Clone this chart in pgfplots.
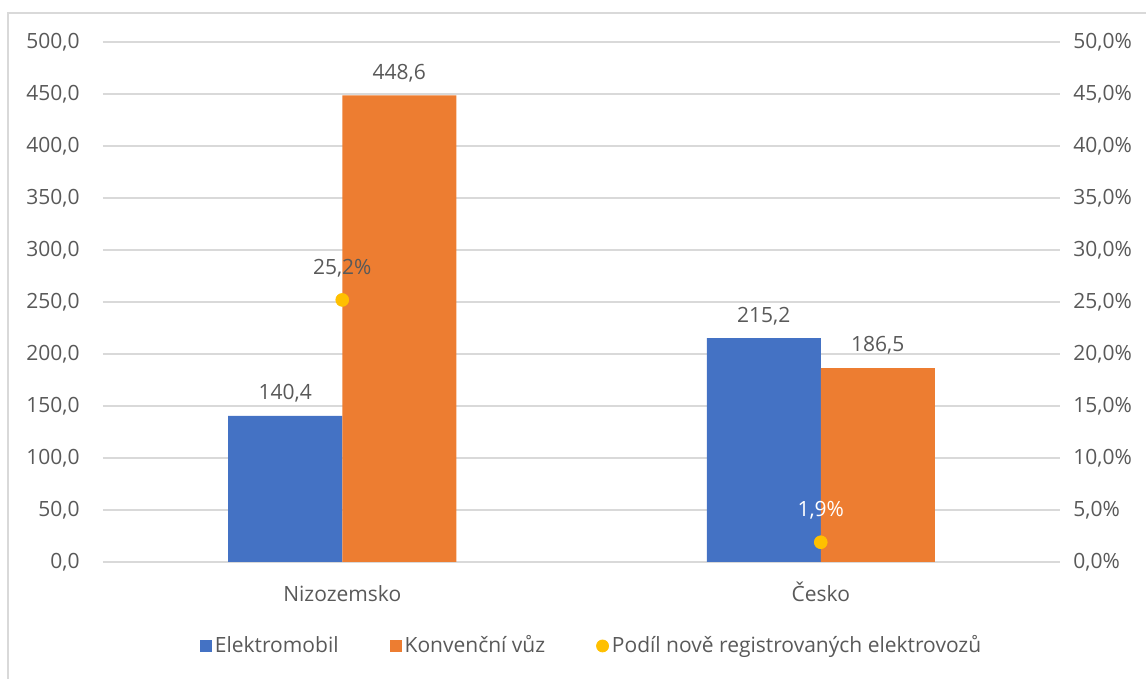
\documentclass[border=0pt]{standalone}
\usepackage{fontspec}
\setmainfont{Open Sans}
\usepackage{pgfplots}
\pgfplotsset{compat=1.18}
\definecolor{elblue}{HTML}{4472C4}
\definecolor{konv}{HTML}{ED7D31}
\definecolor{yel}{HTML}{FFC000}
\definecolor{txt}{HTML}{595959}
\definecolor{gridc}{HTML}{D9D9D9}

\pgfplotsset{
  base/.style={
    scale only axis,
    width=478.5pt, height=260pt,
    at={(51.5pt,58.5pt)}, anchor=south west,
    xmin=-0.5, xmax=1.5,
    major tick length=0pt,
    axis line style={draw=none},
    tick label style={font=\fontsize{10.5}{12}\selectfont, text=txt},
    /pgf/number format/assume math mode=true,
  }
}

\begin{document}
\fontsize{10.5}{12}\selectfont
\begin{tikzpicture}
\path[use as bounding box] (0pt,0pt) rectangle (573pt,339.5pt);
\draw[gridc, line width=0.8pt] (4pt,0pt) -- (4pt,333pt) -- (573pt,333pt);

\begin{axis}[base,
  ybar=0pt, bar width=57pt,
  ymin=0, ymax=500,
  ytick={0,50,...,500},
  ymajorgrids, major grid style={gridc, line width=0.8pt},
  xtick={0,1}, xticklabels={Nizozemsko, Česko},
  xticklabel style={anchor=base, yshift=-20pt},
  yticklabel style={/pgf/number format/.cd, use comma, fixed, fixed zerofill, precision=1, /tikz/.cd, xshift=-8pt},
  nodes near coords,
  nodes near coords style={/pgf/number format/.cd, use comma, fixed, fixed zerofill, precision=1, /tikz/.cd,
    font=\fontsize{10.5}{12}\selectfont, text=txt, yshift=3pt},
  legend columns=3,
  legend style={at={(0.511,-0.1615)}, anchor=center, draw=none, fill=none,
    font=\fontsize{10.5}{12}\selectfont, text=txt,
    nodes={inner xsep=1.5pt},
    /tikz/every even column/.append style={column sep=24pt},
    inner sep=0pt},
  legend image code/.code={\fill[#1] (0pt,-3pt) rectangle (6pt,3pt);},
]
\addplot[fill=elblue, draw=none] coordinates {(0,140.4) (1,215.2)};
\addlegendentry{Elektromobil}
\addplot[fill=konv, draw=none] coordinates {(0,448.6) (1,186.5)};
\addlegendentry{Konvenční vůz}
\addlegendimage{legend image code/.code={\fill[yel] (3pt,0pt) circle (3pt);}}
\addlegendentry{Podíl nově registrovaných elektrovozů}
\end{axis}

\begin{axis}[base,
  axis y line*=right, axis x line=none,
  ymin=0, ymax=50,
  ytick={0,5,...,50},
  yticklabel={\pgfmathprintnumber[use comma, fixed, fixed zerofill, precision=1, assume math mode=true]{\tick}\%},
  yticklabel style={anchor=west, xshift=3pt},
]
\addplot[only marks, mark=*, mark size=3.2pt, color=yel,
  nodes near coords={\pgfmathprintnumber[use comma, fixed, precision=1, assume math mode=true]{\pgfplotspointmeta}\%},
  nodes near coords style={font=\fontsize{10.5}{12}\selectfont, text=txt, anchor=center, yshift=16pt}]
  coordinates {(0,25.2)};
\addplot[only marks, mark=*, mark size=3.2pt, color=yel,
  nodes near coords={\pgfmathprintnumber[use comma, fixed, precision=1, assume math mode=true]{\pgfplotspointmeta}\%},
  nodes near coords style={font=\fontsize{10.5}{12}\selectfont, text=white, anchor=center, yshift=16pt}]
  coordinates {(1,1.9)};
\end{axis}
\end{tikzpicture}
\end{document}
